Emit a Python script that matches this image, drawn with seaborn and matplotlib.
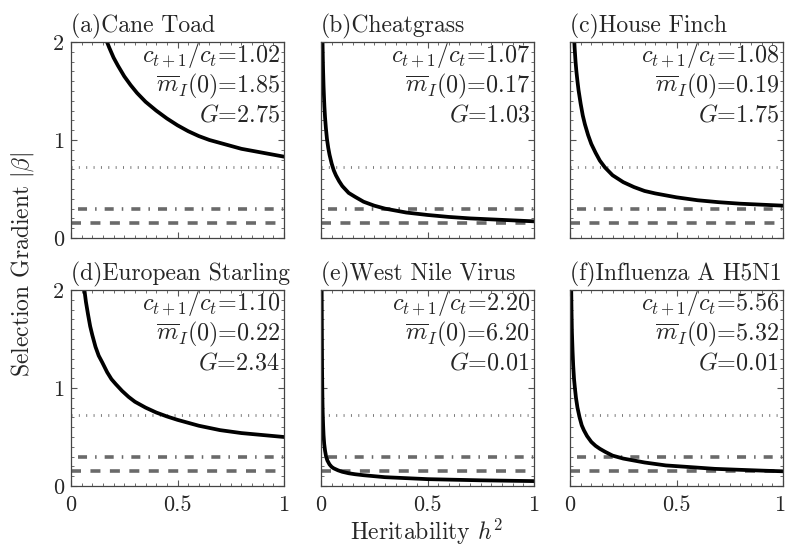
import matplotlib
matplotlib.use("Agg")
import matplotlib.pyplot as plt
import matplotlib.transforms as mtransforms
import seaborn as sns
import pandas as pd
from matplotlib.ticker import MultipleLocator, FixedLocator

# ---- data ----
titles = ["(a)Cane Toad", "(b)Cheatgrass", "(c)House Finch",
          "(d)European Starling", "(e)West Nile Virus", "(f)Influenza A H5N1"]
growth = ["1.02", "1.07", "1.08", "1.10", "2.20", "5.56"]
m_init = ["1.85", "0.17", "0.19", "0.22", "6.20", "5.32"]
G_vals = ["2.75", "1.03", "1.75", "2.34", "0.01", "0.01"]

h_a = [0.16, 0.18, 0.2, 0.22, 0.25, 0.28, 0.31, 0.35, 0.4, 0.45, 0.5, 0.55, 0.6,
       0.65, 0.7, 0.75, 0.8, 0.85, 0.9, 0.95, 1.0]
b_a = [2.05, 1.94, 1.84, 1.76, 1.65, 1.56, 1.48, 1.39, 1.30, 1.22, 1.15, 1.09, 1.04,
       1.00, 0.97, 0.94, 0.91, 0.89, 0.87, 0.85, 0.83]
h_b = [0.007, 0.008, 0.009, 0.01, 0.012, 0.014, 0.016, 0.019, 0.023, 0.028, 0.034,
       0.04, 0.05, 0.06, 0.07, 0.085, 0.1, 0.13, 0.16, 0.2, 0.25, 0.3, 0.4, 0.5,
       0.6, 0.7, 0.8, 0.9, 1.0]
b_b = [2.03, 1.90, 1.79, 1.70, 1.55, 1.44, 1.34, 1.23, 1.12, 1.01, 0.92,
       0.85, 0.76, 0.69, 0.64, 0.58, 0.53, 0.46, 0.42, 0.37, 0.33, 0.30, 0.26, 0.235,
       0.215, 0.20, 0.19, 0.18, 0.17]
h_c = [0.019, 0.022, 0.026, 0.03, 0.035, 0.04, 0.05, 0.06, 0.07, 0.085, 0.1, 0.12,
       0.14, 0.164, 0.2, 0.25, 0.3, 0.35, 0.4, 0.45, 0.5, 0.6, 0.7, 0.8, 0.9, 1.0]
b_c = [2.05, 1.93, 1.80, 1.70, 1.60, 1.51, 1.37, 1.25, 1.16, 1.05, 0.96, 0.87,
       0.79, 0.72, 0.64, 0.57, 0.52, 0.48, 0.455, 0.435, 0.415, 0.385, 0.365, 0.35,
       0.34, 0.33]
h_d = [0.06, 0.07, 0.08, 0.09, 0.1, 0.115, 0.13, 0.147, 0.17, 0.19, 0.21, 0.24,
       0.27, 0.3, 0.35, 0.4, 0.45, 0.5, 0.55, 0.6, 0.7, 0.8, 0.9, 1.0]
b_d = [2.05, 1.88, 1.75, 1.63, 1.54, 1.42, 1.33, 1.26, 1.16, 1.09, 1.04, 0.97,
       0.91, 0.86, 0.80, 0.75, 0.71, 0.675, 0.645, 0.615, 0.57, 0.54, 0.52, 0.50]
h_e = [0.003, 0.004, 0.005, 0.006, 0.007, 0.008, 0.01, 0.012, 0.015, 0.019, 0.024,
       0.03, 0.04, 0.05, 0.06, 0.08, 0.1, 0.13, 0.16, 0.2, 0.25, 0.3, 0.4, 0.5,
       0.6, 0.75, 0.9, 1.0]
b_e = [2.05, 1.60, 1.20, 1.00, 0.85, 0.75, 0.62, 0.52, 0.43, 0.36, 0.30,
       0.26, 0.22, 0.195, 0.18, 0.16, 0.145, 0.13, 0.12, 0.11, 0.10, 0.09, 0.08, 0.07,
       0.065, 0.058, 0.053, 0.05]
h_f = [0.0055, 0.007, 0.009, 0.012, 0.015, 0.019, 0.023, 0.028, 0.035, 0.045, 0.055,
       0.065, 0.08, 0.1, 0.12, 0.14, 0.164, 0.2, 0.25, 0.3, 0.35, 0.45, 0.55, 0.68,
       0.8, 0.9, 1.0]
b_f = [2.05, 1.80, 1.57, 1.38, 1.23, 1.09, 1.00, 0.90, 0.80, 0.70, 0.62,
       0.57, 0.51, 0.45, 0.41, 0.38, 0.35, 0.31, 0.28, 0.26, 0.24, 0.21, 0.195, 0.175,
       0.165, 0.157, 0.15]

h_list = [h_a, h_b, h_c, h_d, h_e, h_f]
b_list = [b_a, b_b, b_c, b_d, b_e, b_f]

ref_levels = [0.72, 0.30, 0.15]   # dotted, dash-dot, dashed

x_ticks = [0, 0.5, 1]
x_ticklabels = ["0", "0.5", "1"]
y_ticks = [0, 1, 2]
y_ticklabels = ["0", "1", "2"]

# ---- style ----
sns.set_style("ticks")
plt.rcParams["font.family"] = ["cmr10", "DejaVu Serif"]
plt.rcParams["mathtext.fontset"] = "cm"
plt.rcParams["axes.unicode_minus"] = False
plt.rcParams["axes.formatter.use_mathtext"] = True
plt.rcParams["lines.scale_dashes"] = False

fig = plt.figure(figsize=(7.88, 5.5), dpi=100)
W, H = 788.0, 550.0
col_left = [71, 321, 570]
row_top = [42, 290]
aw, ah = 213, 196

gray = "#6a6a6a"
fs_title = 17
fs_tick = 16
fs_label = 17

# annotation font size chosen so the first line is ~138 px wide, as in the reference
renderer = fig.canvas.get_renderer()
probe = fig.text(0, 0, r"$c_{t+1}/c_t$=1.02", fontsize=17)
wpx = probe.get_window_extent(renderer).width
probe.remove()
fs_ann = 17 * 138.0 / wpx
fs_ann = min(max(fs_ann, 16), 20)

for i in range(6):
    r, c = divmod(i, 3)
    ax = fig.add_axes([col_left[c] / W, 1 - (row_top[r] + ah) / H, aw / W, ah / H])
    df = pd.DataFrame({"h": h_list[i], "beta": b_list[i]})

    ax.axhline(ref_levels[0], color="#777777", lw=2.0, dashes=(0.7, 4.6), dash_capstyle="butt")
    ax.axhline(ref_levels[1], color=gray, lw=2.6, dashes=(6.5, 5.8, 1.1, 5.8),
               dash_capstyle="butt", xmin=0.035)
    ax.axhline(ref_levels[2], color=gray, lw=2.6, dashes=(7.2, 6.8), dash_capstyle="butt")

    sns.lineplot(data=df, x="h", y="beta", ax=ax, color="black", lw=2.7,
                 estimator=None, sort=True)

    ax.set_xlim(0, 1)
    ax.set_ylim(0, 2)
    ax.set_xlabel("")
    ax.set_ylabel("")
    ax.xaxis.set_major_locator(FixedLocator(x_ticks))
    ax.yaxis.set_major_locator(FixedLocator(y_ticks))
    ax.xaxis.set_minor_locator(MultipleLocator(0.05))
    ax.yaxis.set_minor_locator(MultipleLocator(0.1))
    ax.tick_params(which="both", direction="in", top=True, right=True,
                   color="#555555", labelsize=fs_tick)
    ax.tick_params(axis="y", pad=5)
    ax.tick_params(axis="x", pad=7)
    ax.tick_params(which="major", length=4, width=0.8)
    ax.tick_params(which="minor", length=2, width=0.6)
    if r == 1:
        ax.set_xticklabels(x_ticklabels)
        if c == 2:
            lab = ax.get_xticklabels()[-1]
            lab.set_transform(lab.get_transform() +
                              mtransforms.ScaledTranslation(-3 / 100, 0, fig.dpi_scale_trans))
    else:
        ax.set_xticklabels([])
    if c == 0:
        ax.set_yticklabels(y_ticklabels)
    else:
        ax.set_yticklabels([])
    for s in ax.spines.values():
        s.set_color("#444444")
        s.set_linewidth(0.9)

    ax.annotate(titles[i], xy=(0, 1), xycoords="axes fraction",
                xytext=(0, 10), textcoords="offset pixels",
                ha="left", va="baseline", fontsize=fs_title)
    txt = [r"$c_{t+1}/c_t$=" + growth[i],
           r"$\overline{m}_I(0)$=" + m_init[i],
           r"$G$=" + G_vals[i]]
    for k, t in enumerate(txt):
        ax.annotate(t, xy=(1, 1), xycoords="axes fraction",
                    xytext=(-4, -20 - 30 * k), textcoords="offset pixels",
                    ha="right", va="baseline", fontsize=fs_ann)

fig.text(23 / W, 1 - 264 / H, r"Selection Gradient $|\beta|$", rotation=90,
         ha="center", va="center", fontsize=fs_label)
fig.text(427 / W, 1 - 540 / H, r"Heritability $h^2$", ha="center",
         va="baseline", fontsize=fs_label)

fig.savefig("out.png", dpi=100)
